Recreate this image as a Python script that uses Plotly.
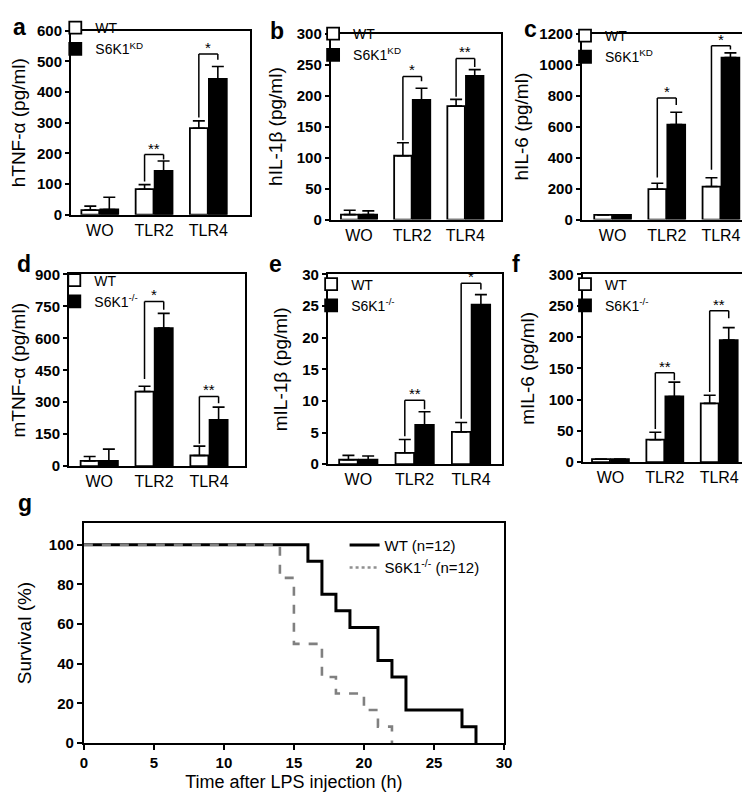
import plotly.graph_objects as go

FONT = "Liberation Sans, Arial, sans-serif"
W, H = 750, 793

categories = ["WO", "TLR2", "TLR4"]

# ---- panel a : hTNF-alpha (human cells, WT vs S6K1 KD)
a_wt = [15, 83, 282]
a_wt_err = [13, 15, 24]
a_kd = [17, 143, 443]
a_kd_err = [40, 32, 40]
a_sig = [(1, "**", 196, 108, 180), (2, "*", 524, 317, 505)]

# ---- panel b : hIL-1beta
b_wt = [8, 103, 183]
b_wt_err = [7, 21, 11]
b_kd = [8, 193, 232]
b_kd_err = [6, 19, 10]
b_sig = [(1, "*", 231, 128, 223), (2, "**", 260, 198, 246)]

# ---- panel c : hIL-6
c_wt = [30, 196, 213]
c_wt_err = [0, 38, 57]
c_kd = [30, 613, 1045]
c_kd_err = [0, 80, 31]
c_sig = [(1, "*", 785, 272, 739), (2, "*", 1122, 322, 1097)]

# ---- panel d : mTNF-alpha (mouse, WT vs S6K1-/-)
d_wt = [25, 350, 50]
d_wt_err = [20, 25, 44]
d_kd = [25, 648, 217]
d_kd_err = [55, 69, 60]
d_sig = [(1, "*", 773, 409, 734), (2, "**", 327, 105, 295)]

# ---- panel e : mIL-1beta
e_wt = [0.7, 1.8, 5.1]
e_wt_err = [0.7, 2.1, 1.5]
e_kd = [0.7, 6.2, 25.2]
e_kd_err = [0.6, 2.1, 1.6]
e_sig = [(1, "**", 10.1, 4.4, 8.7), (2, "*", 28.6, 7.2, 27.6)]

# ---- panel f : mIL-6
f_wt = [5, 36, 94]
f_wt_err = [0, 12, 13]
f_kd = [5, 105, 195]
f_kd_err = [0, 23, 20]
f_sig = [(1, "**", 143, 53, 131), (2, "**", 242, 112, 230)]

# ---- panel g : survival after LPS
wt_time = [0, 16, 17, 18, 19, 21, 22, 23, 27, 28]
wt_surv = [100, 91.7, 75, 66.7, 58.3, 41.7, 33.3, 16.7, 8.3, 0]
ko_time = [0, 14, 15, 17, 18, 20, 21, 22]
ko_surv = [100, 83.3, 50, 33.3, 25, 16.7, 8.3, 0]

fig = go.Figure()


def px_dom_x(x0, x1):
    return [x0 / W, x1 / W]


def px_dom_y(top, bottom):
    return [1 - bottom / H, 1 - top / H]


bar_panels = [
    # letter, wt, wt_err, ko, ko_err, sig, ko name, y title, yrange, dtick, xdom, ydom, xrange, legend pos, title standoff
    ("a", a_wt, a_wt_err, a_kd, a_kd_err, a_sig, "S6K1<sup>KD</sup>", "hTNF-α (pg/ml)", [0, 600], 100,
     (60, 242), (14, 202), [-0.53, 2.77], (44, -5), 6),
    ("b", b_wt, b_wt_err, b_kd, b_kd_err, b_sig, "S6K1<sup>KD</sup>", "hIL-1β (pg/ml)", [0, 300], 50,
     (324, 497), (17, 207), [-0.53, 2.67], (306, 1), 9),
    ("c", c_wt, c_wt_err, c_kd, c_kd_err, c_sig, "S6K1<sup>KD</sup>", "hIL-6 (pg/ml)", [0, 1200], 200,
     (579, 748), (17, 207), [-0.57, 2.5], (562, 3), 6),
    ("d", d_wt, d_wt_err, d_kd, d_kd_err, d_sig, "S6K1<sup>-/-</sup>", "mTNF-α (pg/ml)", [0, 900], 150,
     (58, 237), (263, 459), [-0.55, 2.66], (43, 253), 6),
    ("e", e_wt, e_wt_err, e_kd, e_kd_err, e_sig, "S6K1<sup>-/-</sup>", "mIL-1β (pg/ml)", [0, 30], 5,
     (321, 498), (263, 457), [-0.54, 2.55], (304, 257), 10),
    ("f", f_wt, f_wt_err, f_kd, f_kd_err, f_sig, "S6K1<sup>-/-</sup>", "mIL-6 (pg/ml)", [0, 300], 50,
     (580, 748), (263, 455), [-0.51, 2.53], (562, 257), 9),
]

# panel letter centres (px)
letter_pos = {"a": (8, 10), "b": (269, 14), "c": (527, 12), "d": (12, 252), "e": (268, 252), "f": (512, 252),
              "g": (13, 497)}

layout = dict(
    width=W, height=H,
    margin=dict(l=0, r=0, t=0, b=0),
    paper_bgcolor="white", plot_bgcolor="white",
    font=dict(family=FONT, color="black"),
    barmode="group", bargap=0.3, bargroupgap=0.06,
    shapes=[], annotations=[],
)

axis_line = dict(showline=True, linecolor="black", linewidth=2, mirror=True, showgrid=False, zeroline=False)

for i, (letter, wt, wt_err, ko, ko_err, sig, ko_name, ytitle, yrange, dtick, xd, yd, xrange, lpos, standoff) in enumerate(bar_panels):
    n = i + 1
    sfx = "" if n == 1 else str(n)
    xa, ya = "x" + sfx, "y" + sfx
    leg = "legend" + sfx
    fig.add_trace(go.Bar(
        x=categories, y=wt, name="WT", xaxis=xa, yaxis=ya, legend=leg,
        marker=dict(color="white", line=dict(color="black", width=1.8)),
        error_y=dict(type="data", symmetric=False, array=wt_err, arrayminus=[0] * len(wt_err),
                     color="black", thickness=1.6, width=6),
    ))
    fig.add_trace(go.Bar(
        x=categories, y=ko, name=ko_name, xaxis=xa, yaxis=ya, legend=leg,
        marker=dict(color="black", line=dict(color="black", width=1.8)),
        error_y=dict(type="data", symmetric=False, array=ko_err, arrayminus=[0] * len(ko_err),
                     color="black", thickness=1.6, width=6),
    ))
    layout["xaxis" + sfx] = dict(
        axis_line, type="category", domain=px_dom_x(*xd), anchor=ya, range=xrange,
        ticks="", tickfont=dict(size=16, family=FONT), fixedrange=True,
    )
    layout["yaxis" + sfx] = dict(
        axis_line, domain=px_dom_y(*yd), anchor=xa, range=yrange, dtick=dtick,
        ticks="outside", ticklen=4, tickwidth=2, tickcolor="black",
        tickfont=dict(size=15, family=FONT, weight="bold"),
        title=dict(text=ytitle, font=dict(size=19, family=FONT), standoff=standoff),
    )
    layout[leg] = dict(
        x=lpos[0] / W, y=1 - lpos[1] / H, xanchor="left", yanchor="top",
        bgcolor="rgba(0,0,0,0)", borderwidth=0, font=dict(size=14, family=FONT),
        itemwidth=30, tracegroupgap=0, traceorder="normal",
    )
    off = 0.5 * (1 - 0.3) / 2  # centre offset of each bar in a group
    for (ci, lab, ytop, yl, yr) in sig:
        x0, x1 = ci - off, ci + off
        for (sx0, sy0, sx1, sy1) in [(x0, yl, x0, ytop), (x0, ytop, x1, ytop), (x1, ytop, x1, yr)]:
            layout["shapes"].append(dict(type="line", xref=xa, yref=ya, x0=sx0, y0=sy0, x1=sx1, y1=sy1,
                                         line=dict(color="black", width=1.5)))
        layout["annotations"].append(dict(x=ci, y=ytop, xref=xa, yref=ya, text=lab, showarrow=False,
                                          yanchor="bottom", yshift=-4, font=dict(size=15, family=FONT)))

# ---- survival panel g
fig.add_trace(go.Scatter(x=wt_time, y=wt_surv, mode="lines", line=dict(color="black", width=3, shape="hv"),
                         xaxis="x7", yaxis="y7", name="WT (n=12)", legend="legend7"))
fig.add_trace(go.Scatter(x=ko_time, y=ko_surv, mode="lines",
                         line=dict(color="#808080", width=2.6, shape="hv", dash="dash"),
                         xaxis="x7", yaxis="y7", name="S6K1<sup>-/-</sup> (n=12)", showlegend=False))
fig.add_trace(go.Scatter(x=[None], y=[None], mode="lines", line=dict(color="#909090", width=2.6, dash="dot"),
                         xaxis="x7", yaxis="y7", name="S6K1<sup>-/-</sup> (n=12)", legend="legend7"))

layout["xaxis7"] = dict(axis_line, domain=px_dom_x(73, 500), anchor="y7", range=[0, 30], dtick=5,
                        ticks="outside", ticklen=5, tickwidth=2, tickcolor="black",
                        tickfont=dict(size=15, family=FONT, weight="bold"),
                        title=dict(text="Time after LPS injection (h)", font=dict(size=18, family=FONT), standoff=5))
layout["yaxis7"] = dict(axis_line, domain=px_dom_y(517, 742), anchor="x7", range=[0, 111], tickvals=[0, 20, 40, 60, 80, 100],
                        ticks="outside", ticklen=5, tickwidth=2, tickcolor="black",
                        tickfont=dict(size=15, family=FONT, weight="bold"),
                        title=dict(text="Survival (%)", font=dict(size=19, family=FONT), standoff=12))
layout["legend7"] = dict(x=338 / W, y=1 - 523 / H, xanchor="left", yanchor="top", bgcolor="rgba(0,0,0,0)",
                         font=dict(size=15, family=FONT), traceorder="normal")

for lt, (lx, ly) in letter_pos.items():
    layout["annotations"].append(dict(x=lx / W, y=1 - ly / H, xref="paper", yref="paper", text="<b>%s</b>" % lt,
                                      showarrow=False, xanchor="center", yanchor="middle",
                                      font=dict(size=23, family=FONT)))

fig.update_layout(**layout)
fig.write_html("out.html")
